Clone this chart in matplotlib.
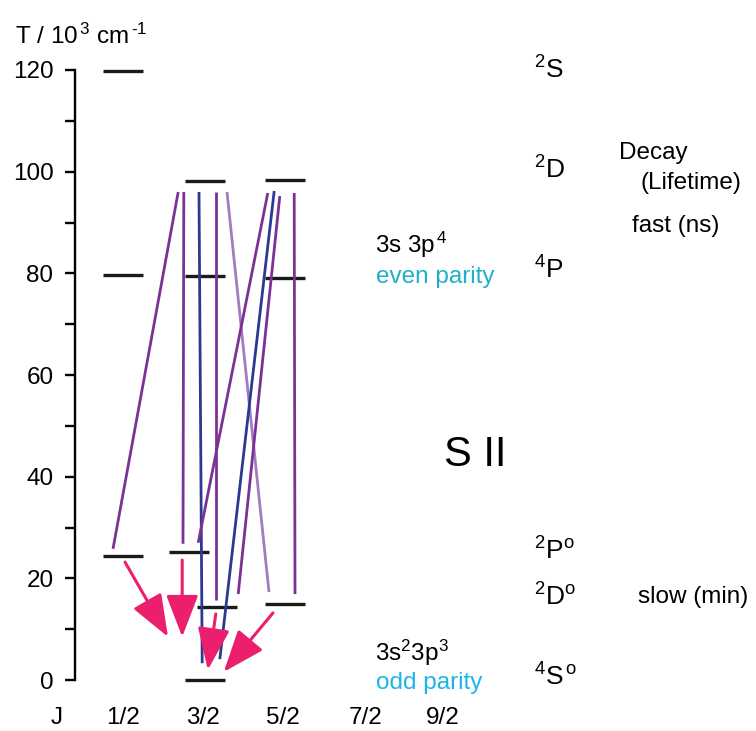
import matplotlib
matplotlib.use('Agg')
import matplotlib.pyplot as plt

plt.rcParams['font.family'] = ['Liberation Sans', 'DejaVu Sans']
plt.rcParams['mathtext.fontset'] = 'custom'
plt.rcParams['mathtext.rm'] = 'Liberation Sans'
plt.rcParams['mathtext.it'] = 'Liberation Sans:italic'

# energy levels of S II (x = J column, 1 -> J=1/2 ...; T in 10^3 cm^-1)
level_x = [1.0, 1.0, 1.0, 2.02, 2.02, 1.83, 2.17, 2.02, 3.03, 3.03, 3.03]
level_T = [119.8, 79.7, 24.4, 98.2, 79.5, 25.2, 14.4, 0.0, 98.4, 79.1, 15.0]

# allowed transitions (upper x, upper T, lower x, lower T, kind)
trans_x1 = [1.69, 1.76, 1.95, 2.16, 2.30, 2.81, 2.89, 2.96, 3.14]
trans_T1 = [96.0, 96.0, 96.0, 96.0, 96.0, 95.8, 96.2, 95.2, 95.8]
trans_x2 = [0.875, 1.75, 1.99, 2.16, 2.825, 1.94, 2.21, 2.44, 3.15]
trans_T2 = [25.8, 26.8, 3.3, 15.7, 17.3, 27.0, 4.1, 16.9, 16.9]
trans_kind = ['p', 'p', 'b', 'p', 'l', 'p', 'b', 'p', 'p']

# forbidden (slow) decays to the ground state
arr_x1 = [1.025, 1.74, 2.16, 2.875]
arr_T1 = [23.2, 23.6, 13.0, 13.2]
arr_x2 = [1.5625, 1.74, 2.06, 2.26]
arr_T2 = [8.5, 8.5, 2.0, 1.6]

j_pos = [0.175, 1, 2, 3, 4.03, 5]
j_labels = ['J', '1/2', '3/2', '5/2', '7/2', '9/2']

colors = {'p': '#7b3294', 'b': '#2b3990', 'l': '#a07cc0'}
pink = '#ec1e6e'


def xy(px, py):
    # pixel position of the reference -> data coords
    return (px - 43) / 80.0, (680 - py) / 5.0833


fig = plt.figure(figsize=(7.56, 7.31), dpi=100)
ax = fig.add_axes([0, 0, 1, 1])
ax.set_xlim(-0.5375, 8.9125)
ax.set_ylim(-10.03, 133.77)

# axis
for s in ['top', 'right']:
    ax.spines[s].set_visible(False)
ax.spines['left'].set_position(('data', 0.4))
ax.spines['left'].set_bounds(0, 120)
ax.spines['left'].set_linewidth(1.7)
ax.spines['bottom'].set_visible(False)
ax.spines['bottom'].set_position(('data', -2.5))
ax.set_yticks(range(0, 121, 20))
ax.set_yticks(range(10, 120, 20), minor=True)
ax.tick_params(axis='y', which='both', direction='out', length=7.5, width=1.7,
               pad=8, labelsize=17.5)
ax.set_xticks(j_pos)
ax.set_xticklabels(j_labels)
ax.tick_params(axis='x', length=0, pad=10, labelsize=17.5)

# levels
for x, t in zip(level_x, level_T):
    ax.plot([x - 0.25, x + 0.25], [t, t], color='#1a1a1a', lw=2.4,
            solid_capstyle='butt')

# transitions
for x1, t1, x2, t2, k in zip(trans_x1, trans_T1, trans_x2, trans_T2, trans_kind):
    ax.plot([x1, x2], [t1, t2], color=colors[k], lw=2.0, solid_capstyle='butt')

for x1, t1, x2, t2 in zip(arr_x1, arr_T1, arr_x2, arr_T2):
    ax.annotate('', xy=(x2, t2), xytext=(x1, t1),
                arrowprops=dict(arrowstyle='-|>,head_length=2.6,head_width=1.0',
                                mutation_scale=10, color=pink, lw=2.2,
                                shrinkA=0, shrinkB=0))

# texts
fs = 17.5
ax.text(*xy(15, 36), r'T / 10$^{\,3}$ cm$^{\,\text{-}1}$', fontsize=fs, va='center')
terms = [(70, r'$^2$S'), (170, r'$^2$D'), (270, r'$^4$P'),
         (551, r'$^2$P$^{\rm o}$'), (597, r'$^2$D$^{\rm o}$'),
         (677, r'$^4$S$^{\,\rm o}$')]
for py, s in terms:
    ax.text(*xy(534, py), s, fontsize=19, va='center')
ax.text(*xy(444, 455), 'S II', fontsize=30, va='center')
ax.text(*xy(375, 245), r'3s 3p$^{\,4}$', fontsize=fs, va='center')
ax.text(*xy(376, 277), 'even parity', fontsize=fs, va='center', color='#1fb0c8')
ax.text(*xy(375, 653), r'3s$^2$3p$^3$', fontsize=fs, va='center')
ax.text(*xy(376, 683), 'odd parity', fontsize=fs, va='center', color='#1eb4e8')
ax.text(*xy(619, 153), 'Decay', fontsize=fs, va='center')
ax.text(*xy(640, 183), '(Lifetime)', fontsize=fs, va='center')
ax.text(*xy(632, 226), 'fast (ns)', fontsize=fs, va='center')
ax.text(*xy(638, 597), 'slow (min)', fontsize=fs, va='center')

fig.savefig('out.png', dpi=100)
